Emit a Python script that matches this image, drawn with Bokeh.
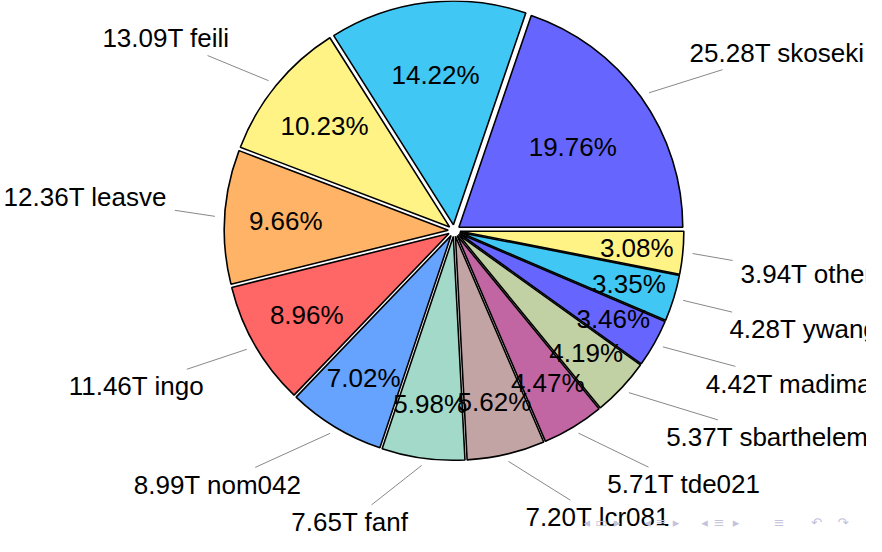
import math
from bokeh.plotting import figure
from bokeh.models import ColumnDataSource
from bokeh.embed import file_html
from bokeh.resources import INLINE
from bokeh.core.properties import value

# ---------------- data ----------------
names = ["skoseki", "", "feili", "leasve", "ingo", "nom042", "fanf",
         "lcr081", "tde021", "sbarthelemy", "madimadi", "ywang", "others"]
sizes_tb = [25.28, 18.19, 13.09, 12.36, 11.46, 8.99, 7.65,
            7.20, 5.71, 5.37, 4.42, 4.28, 3.94]
percents = [19.76, 14.22, 10.23, 9.66, 8.96, 7.02, 5.98,
            5.62, 4.47, 4.19, 3.46, 3.35, 3.08]
colors = ["#6666FF", "#40C7F3", "#FFF385", "#FFB366", "#FF6666", "#66A3FF",
          "#A3D9C8", "#C3A4A4", "#C266A3", "#C2D1A3", "#6666FF", "#40C7F3",
          "#FFF385"]

# ---------------- layout ----------------
W, H = 866, 536            # plot size in screen px
SW, SH = 882, 552          # slide size (data units)
KX, KY = SW / W, SH / H    # data units per screen px
CX, CY = 462, SH - 237     # pie centre
R = 228                    # radius
EXPLODE = 6
FS = 26                    # font size px
FONT = "Liberation Sans"
SEP = 8                    # inner separation of outer labels
LINE_START = 244
PIN = 285
ASC = 0.72 * FS * KY       # cap height in data units

# Arial-like advance widths (em/1000) for label width estimation
_w = {c: 556 for c in "0123456789"}
_w.update({".": 278, "T": 611, " ": 278, "%": 889, "a": 556, "b": 556, "c": 500,
           "d": 556, "e": 556, "f": 278, "g": 556, "h": 556, "i": 222, "j": 222,
           "k": 500, "l": 222, "m": 833, "n": 556, "o": 556, "p": 556, "q": 556,
           "r": 333, "s": 500, "t": 278, "u": 556, "v": 500, "w": 722, "x": 500,
           "y": 500, "z": 500})


def text_width(s):
    return sum(_w.get(c, 556) for c in s) / 1000.0 * FS * KX


total = sum(percents)
starts, ends, mids = [], [], []
acc = 0.0
for pc in percents:
    a0 = acc / total * 2 * math.pi
    acc += pc
    a1 = acc / total * 2 * math.pi
    starts.append(a0)
    ends.append(a1)
    mids.append((a0 + a1) / 2)

wx = [CX + EXPLODE * math.cos(m) for m in mids]
wy = [CY + EXPLODE * math.sin(m) for m in mids]

p = figure(width=W, height=H, x_range=(0, SW), y_range=(0, SH),
           output_backend="svg", toolbar_location=None, min_border=0)
p.axis.visible = False
p.grid.visible = False
p.outline_line_color = None
p.background_fill_color = "white"

src = ColumnDataSource(dict(x=wx, y=wy, s=starts, e=ends, c=colors))
p.wedge(x="x", y="y", radius=R, start_angle="s", end_angle="e",
        fill_color="c", line_color="black", line_width=1.6, source=src)

# inner percentage labels
ix, iy, itxt = [], [], []
for pc, m in zip(percents, mids):
    d = 194 - 2.3 * pc
    ix.append(CX + d * math.cos(m))
    iy.append(CY + d * math.sin(m))
    itxt.append(f"{pc:.2f}%")
p.text(x=ix, y=iy, text=itxt, text_font=value(FONT), text_font_size=f"{FS}px",
       text_align="center", text_baseline="middle", text_color="black")

# outer labels with leader lines
lx0, ly0, lx1, ly1 = [], [], [], []
L = {"left": ([], [], []), "right": ([], [], [])}
for nm, sz, m in zip(names, sizes_tb, mids):
    if not nm:
        continue
    label = f"{sz:.2f}T {nm}"
    cu, su = math.cos(m), math.sin(m)
    sx, sy = CX + LINE_START * cu, CY + LINE_START * su
    px, py = CX + PIN * cu, CY + PIN * su
    w = text_width(label) + 2 * SEP
    h = ASC + 2 * SEP
    if cu >= 0:
        align = "left"
        tx = px + SEP
        ncx = px + w / 2
    else:
        align = "right"
        tx = px - SEP
        ncx = px - w / 2
    if su >= 0:
        ty = py + SEP + ASC / 2
        ncy = py + h / 2
    else:
        ty = py - SEP - ASC / 2
        ncy = py - h / 2
    dx, dy = ncx - sx, ncy - sy
    tx_ = 1 - (w / 2) / abs(dx) if abs(dx) > w / 2 else 0
    ty_ = 1 - (h / 2) / abs(dy) if abs(dy) > h / 2 else 0
    t = max(tx_, ty_, 0)
    lx0.append(sx)
    ly0.append(sy)
    lx1.append(sx + t * dx)
    ly1.append(sy + t * dy)
    L[align][0].append(tx)
    L[align][1].append(ty)
    L[align][2].append(label)

p.segment(x0=lx0, y0=ly0, x1=lx1, y1=ly1, line_color="#7a7a7a", line_width=0.9)
for align, (xs, ys, ts) in L.items():
    p.text(x=xs, y=ys, text=ts, text_font=value(FONT), text_font_size=f"{FS}px",
           text_align=align, text_baseline="middle", text_color="black")

# beamer navigation symbols (faint)
nav_sym = ["◂", "▭", "▸", "◂", "≡", "▸", "◂", "≡", "▸", "≡", "↶", "↷"]
nav_x = [597, 612, 628, 659, 673, 688, 717, 732, 749, 793, 831, 858]
p.text(x=nav_x, y=[SH - 538] * len(nav_x), text=nav_sym,
       text_font=value("DejaVu Sans"), text_font_size="13px",
       text_align="center", text_baseline="middle", text_color="#c3c3dc")

open("out.html", "w").write(file_html(p, INLINE))
